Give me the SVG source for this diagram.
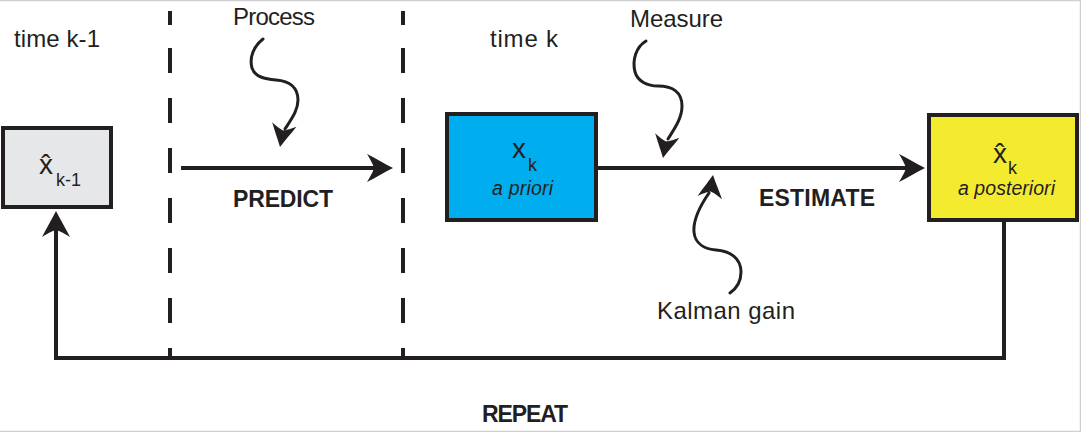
<svg xmlns="http://www.w3.org/2000/svg" width="1081" height="432" viewBox="0 0 1081 432">
<style>
  text { font-family: "Liberation Sans", Arial, sans-serif; fill: #231f20; }
  .lbl { font-size: 24px; }
  .bold { font-size: 23px; font-weight: bold; }
  .it { font-size: 19.5px; font-style: italic; }
  .var { font-size: 28px; }
  .sub { font-size: 18px; }
  .box { stroke: #231f20; stroke-width: 4; }
  .line { fill: none; stroke: #231f20; stroke-width: 4; stroke-linejoin: miter; }
  .dash { fill: none; stroke: #231f20; stroke-width: 4; }
  .wave { fill: none; stroke: #231f20; stroke-width: 3; stroke-linecap: round; }
  .head { fill: #231f20; }
</style>
<defs>
  <path id="ah" d="M0,0 C-8,-4 -18,-10 -26,-14 C-21,-6 -20,-3 -19,0 C-20,3 -21,6 -26,14 C-18,10 -8,4 0,0 Z"/>
</defs>
<rect x="0" y="0" width="1081" height="432" fill="#ffffff"/>
<path d="M0,0.5 H1080.5 V431.5 H0" fill="none" stroke="#cfcfcf" stroke-width="1.5"/>

<g id="time-labels">
  <text class="lbl" x="14" y="47" textLength="86">time k-1</text>
  <text class="lbl" x="490" y="47" textLength="68">time k</text>
</g>

<g id="dividers">
  <line class="dash" x1="170" y1="11" x2="170" y2="25"/>
  <line class="dash" x1="170" y1="48" x2="170" y2="358" stroke-dasharray="25 25"/>
  <line class="dash" x1="403" y1="11" x2="403" y2="25"/>
  <line class="dash" x1="403" y1="48" x2="403" y2="358" stroke-dasharray="25 25"/>
</g>

<g id="connectors">
  <line class="line" x1="181" y1="168" x2="378" y2="168"/>
  <use href="#ah" class="head" transform="translate(393,168)"/>
  <line class="line" x1="598" y1="168" x2="910" y2="168"/>
  <use href="#ah" class="head" transform="translate(925,168)"/>
  <path class="line" d="M56,228 V358 H1004 V220"/>
  <use href="#ah" class="head" transform="translate(56,211) rotate(-90)"/>
</g>

<g id="process">
  <text class="lbl" x="233" y="25" textLength="82">Process</text>
  <path class="wave" d="M263,39 C254,46 249,57 252,68 C255,77 265,79 276,80 C290,81 298,88 298,100 C298,110 292,118 285,129"/>
  <use href="#ah" class="head" transform="translate(280,147) rotate(100.8) scale(0.88)"/>
</g>

<g id="measure">
  <text class="lbl" x="630" y="27" textLength="93">Measure</text>
  <path class="wave" d="M646,41 C636,47 632,60 635,72 C638,82 648,86 658,86 C672,86 682,92 682,106 C682,118 675,128 668,139"/>
  <use href="#ah" class="head" transform="translate(663,158) rotate(100.8) scale(0.88)"/>
</g>

<g id="kalman-gain">
  <text class="lbl" x="657" y="319" textLength="138">Kalman gain</text>
  <path class="wave" d="M709,193 C700,206 693,220 694,232 C695,244 705,249 716,250 C730,251 741,258 741,272 C741,282 737,288 730,293"/>
  <use href="#ah" class="head" transform="translate(713,175) rotate(-82) scale(0.88)"/>
</g>

<g id="node-xk-1">
  <rect class="box" x="3" y="128" width="108" height="79" fill="#e6e7e8"/>
  <text class="var" x="39" y="174">x̂</text>
  <text class="sub" x="56" y="186">k-1</text>
</g>

<g id="node-xk-prior">
  <rect class="box" x="447" y="114" width="149" height="106" fill="#00aeef"/>
  <text class="var" x="512" y="158">x</text>
  <text class="sub" x="528" y="171">k</text>
  <text class="it" x="492" y="195" textLength="61">a priori</text>
</g>

<g id="node-xk-post">
  <rect class="box" x="929" y="115" width="148" height="105" fill="#f4eb31"/>
  <text class="var" x="993" y="163">x̂</text>
  <text class="sub" x="1008" y="174">k</text>
  <text class="it" x="958" y="195" textLength="97">a posteriori</text>
</g>

<g id="phase-labels">
  <text class="bold" x="233" y="207" textLength="100">PREDICT</text>
  <text class="bold" x="759" y="206" textLength="116">ESTIMATE</text>
  <text class="bold" x="482" y="422" textLength="86">REPEAT</text>
</g>
</svg>
